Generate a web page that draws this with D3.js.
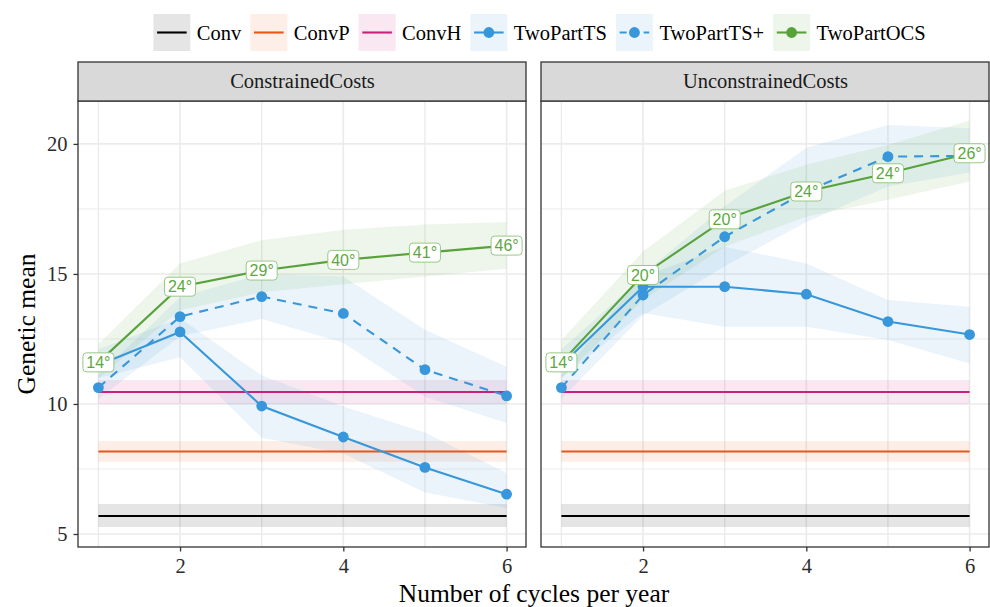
<!DOCTYPE html>
<html>
<head>
<meta charset="utf-8">
<script src="https://cdn.jsdelivr.net/npm/d3@7"></script>
<style>
  body { margin: 0; background: #fff; }
  text { font-family: "Liberation Serif", "Times New Roman", serif; }
</style>
</head>
<body>
<svg id="chart" width="990" height="607"></svg>
<script>
// ---- data ----
const cycles = [1, 2, 3, 4, 5, 6];
const facetNames = ["ConstrainedCosts", "UnconstrainedCosts"];
const schemes = ["Conv", "ConvP", "ConvH", "TwoPartTS", "TwoPartTS+", "TwoPartOCS"];
const yTicks = [5, 10, 15, 20];
const xTicks = [2, 4, 6];

// baselines do not depend on cycles (same in both panels)
const convMean = 5.69, convLo = 5.27, convHi = 6.15;
const convPMean = 8.17, convPLo = 7.78, convPHi = 8.58;
const convHMean = 10.46, convHLo = 10.0, convHHi = 10.92;

// ConstrainedCosts
const tsMeanC  = [11.5, 12.77, 9.92, 8.73, 7.56, 6.53];
const tsLoC    = [11.0, 11.8, 8.7, 8.1, 6.6, 6.0];
const tsHiC    = [12.1, 13.3, 11.1, 9.9, 8.9, 7.35];
const tspMeanC = [10.63, 13.36, 14.13, 13.48, 11.32, 10.31];
const tspLoC   = [10.2, 12.6, 13.27, 12.35, 10.28, 9.27];
const tspHiC   = [11.1, 14.1, 15.0, 14.9, 12.85, 11.43];
const ocsMeanC = [11.6, 14.51, 15.13, 15.54, 15.82, 16.09];
const ocsLoC   = [11.0, 13.6, 14.3, 14.6, 14.9, 15.2];
const ocsHiC   = [12.3, 15.4, 16.3, 16.7, 16.9, 17.0];
const ocsLabC  = ["14°", "24°", "29°", "40°", "41°", "46°"];

// UnconstrainedCosts
const tsMeanU  = [11.5, 14.51, 14.51, 14.22, 13.17, 12.67];
const tsLoU    = [11.0, 13.5, 12.97, 12.97, 12.46, 11.56];
const tsHiU    = [12.1, 14.9, 16.05, 15.4, 14.0, 13.74];
const tspMeanU = [10.63, 14.19, 16.43, 18.17, 19.51, 19.54];
const tspLoU   = [10.2, 13.4, 15.3, 17.0, 18.36, 18.9];
const tspHiU   = [11.1, 15.0, 17.6, 19.85, 20.73, 20.6];
const ocsMeanU = [11.6, 14.96, 17.1, 18.17, 18.87, 19.64];
const ocsLoU   = [11.0, 14.0, 16.05, 17.2, 17.85, 18.55];
const ocsHiU   = [12.46, 15.86, 18.2, 19.2, 19.96, 20.9];
const ocsLabU  = ["14°", "20°", "20°", "24°", "24°", "26°"];

const colors = {
  "Conv": "#000000", "ConvP": "#E8561A", "ConvH": "#C8217A",
  "TwoPartTS": "#3797DA", "TwoPartTS+": "#3797DA", "TwoPartOCS": "#57A23A"
};

// ---- layout ----
const svg = d3.select("#chart");
const plotTop = 101, plotBottom = 547;
const panelX = [[78, 527], [541, 990]];
const y = d3.scaleLinear().domain([4.5, 21.65]).range([plotBottom, plotTop]);
const grid = "#ebebeb", dark = "#333333";

const facets = [
  { name: facetNames[0], ts: [tsMeanC, tsLoC, tsHiC], tsp: [tspMeanC, tspLoC, tspHiC],
    ocs: [ocsMeanC, ocsLoC, ocsHiC], labels: ocsLabC },
  { name: facetNames[1], ts: [tsMeanU, tsLoU, tsHiU], tsp: [tspMeanU, tspLoU, tspHiU],
    ocs: [ocsMeanU, ocsLoU, ocsHiU], labels: ocsLabU }
];

facets.forEach((f, i) => {
  const x = d3.scaleLinear().domain([0.75, 6.25]).range(panelX[i]);
  const g = svg.append("g");
  const [x0, x1] = panelX[i];

  g.append("rect").attr("x", x0).attr("y", plotTop).attr("width", x1 - x0)
    .attr("height", plotBottom - plotTop).attr("fill", "#fff");

  // grid: minor then major
  const yMinor = [7.5, 12.5, 17.5], xMinor = [1, 3, 5];
  g.selectAll(".ymin").data(yMinor).enter().append("line")
    .attr("x1", x0).attr("x2", x1).attr("y1", d => y(d)).attr("y2", d => y(d))
    .attr("stroke", grid).attr("stroke-width", 0.9);
  g.selectAll(".xmin").data(xMinor).enter().append("line")
    .attr("y1", plotTop).attr("y2", plotBottom).attr("x1", d => x(d)).attr("x2", d => x(d))
    .attr("stroke", grid).attr("stroke-width", 1.4);
  g.selectAll(".ymaj").data(yTicks).enter().append("line")
    .attr("x1", x0).attr("x2", x1).attr("y1", d => y(d)).attr("y2", d => y(d))
    .attr("stroke", grid).attr("stroke-width", 1.6);
  g.selectAll(".xmaj").data(xTicks).enter().append("line")
    .attr("y1", plotTop).attr("y2", plotBottom).attr("x1", d => x(d)).attr("x2", d => x(d))
    .attr("stroke", grid).attr("stroke-width", 1.6);

  // series table for this panel
  const flat = v => cycles.map(() => v);
  const series = [
    { key: "Conv", mean: flat(convMean), lo: flat(convLo), hi: flat(convHi) },
    { key: "ConvP", mean: flat(convPMean), lo: flat(convPLo), hi: flat(convPHi) },
    { key: "ConvH", mean: flat(convHMean), lo: flat(convHLo), hi: flat(convHHi) },
    { key: "TwoPartTS", mean: f.ts[0], lo: f.ts[1], hi: f.ts[2], pts: true },
    { key: "TwoPartTS+", mean: f.tsp[0], lo: f.tsp[1], hi: f.tsp[2], pts: true, dash: "9,7" },
    { key: "TwoPartOCS", mean: f.ocs[0], lo: f.ocs[1], hi: f.ocs[2], pts: true }
  ];

  const area = d3.area().x((d, j) => x(cycles[j])).y0(d => y(d[0])).y1(d => y(d[1]));
  const line = d3.line().x((d, j) => x(cycles[j])).y(d => y(d));

  series.forEach(s => {
    g.append("path").datum(s.lo.map((v, j) => [v, s.hi[j]]))
      .attr("d", area).attr("fill", colors[s.key]).attr("fill-opacity", 0.1);
  });
  series.forEach(s => {
    g.append("path").datum(s.mean).attr("d", line).attr("fill", "none")
      .attr("stroke", colors[s.key]).attr("stroke-width", 2.1)
      .attr("stroke-dasharray", s.dash || null);
  });
  series.filter(s => s.pts).forEach(s => {
    g.selectAll(null).data(s.mean).enter().append("circle")
      .attr("cx", (d, j) => x(cycles[j])).attr("cy", d => y(d)).attr("r", 5.4)
      .attr("fill", colors[s.key]);
  });

  // angle labels on the OCS line
  const lab = g.selectAll(".lab").data(f.labels).enter().append("g")
    .attr("transform", (d, j) => `translate(${x(cycles[j])},${y(f.ocs[0][j])})`);
  lab.append("rect").attr("x", -15.5).attr("y", -9.5).attr("width", 31).attr("height", 19)
    .attr("rx", 3.5).attr("fill", "#fff").attr("stroke", "#97C985").attr("stroke-width", 1);
  lab.append("text").text(d => d).attr("text-anchor", "middle").attr("y", 5.8)
    .style("font-family", "'Liberation Sans', Arial, sans-serif").style("font-size", "16px")
    .attr("fill", "#5DA742");

  g.append("rect").attr("x", x0).attr("y", plotTop).attr("width", x1 - x0 - 1)
    .attr("height", plotBottom - plotTop).attr("fill", "none").attr("stroke", dark).attr("stroke-width", 1.3);

  // strip
  g.append("rect").attr("x", x0).attr("y", 62).attr("width", x1 - x0 - 1).attr("height", 39)
    .attr("fill", "#d9d9d9").attr("stroke", dark).attr("stroke-width", 1.3);
  g.append("text").attr("x", (x0 + x1) / 2).attr("y", 88.3).attr("text-anchor", "middle")
    .style("font-size", "20.5px").attr("fill", "#1a1a1a").text(f.name);

  // x axis
  const xa = g.append("g").attr("transform", `translate(0,${plotBottom})`)
    .call(d3.axisBottom(x).tickValues(xTicks).tickSize(4.5).tickPadding(7).tickFormat(d3.format("d")));
  xa.select(".domain").remove();
  xa.selectAll("line").attr("stroke", dark).attr("stroke-width", 1.3);
  xa.selectAll("text").style("font-size", "20.5px").attr("fill", "#2b2b2b")
    .style("font-family", "'Liberation Serif', serif");

  if (i === 0) {
    const ya = g.append("g").attr("transform", `translate(${x0},0)`)
      .call(d3.axisLeft(y).tickValues(yTicks).tickSize(4.5).tickPadding(6));
    ya.select(".domain").remove();
    ya.selectAll("line").attr("stroke", dark).attr("stroke-width", 1.3);
    ya.selectAll("text").style("font-size", "20.5px").attr("fill", "#2b2b2b")
      .style("font-family", "'Liberation Serif', serif");
  }
});

// axis titles
svg.append("text").attr("x", 534).attr("y", 602).attr("text-anchor", "middle")
  .style("font-size", "25.5px").attr("fill", "#000").text("Number of cycles per year");
svg.append("text").attr("transform", "translate(35,324) rotate(-90)").attr("text-anchor", "middle")
  .style("font-size", "25.5px").attr("fill", "#000").text("Genetic mean");

// legend
const leg = svg.append("g");
let lx = 0;
schemes.forEach(k => {
  const it = leg.append("g").attr("transform", `translate(${lx},14)`);
  it.append("rect").attr("width", 37).attr("height", 37)
    .attr("fill", colors[k]).attr("fill-opacity", 0.1);
  it.append("line").attr("x1", 3.7).attr("x2", 33.3).attr("y1", 18.5).attr("y2", 18.5)
    .attr("stroke", colors[k]).attr("stroke-width", 2.1)
    .attr("stroke-dasharray", k === "TwoPartTS+" ? "7,5" : null);
  if (k.startsWith("TwoPart")) {
    it.append("circle").attr("cx", 18.5).attr("cy", 18.5).attr("r", 5.4).attr("fill", colors[k]);
  }
  const t = it.append("text").attr("x", 43.5).attr("y", 25.5).style("font-size", "20.5px")
    .attr("fill", "#000").text(k);
  lx += 43.5 + t.node().getComputedTextLength() + 9;
});
leg.attr("transform", `translate(${539.5 - (lx - 9) / 2},0)`);
</script>
</body>
</html>
